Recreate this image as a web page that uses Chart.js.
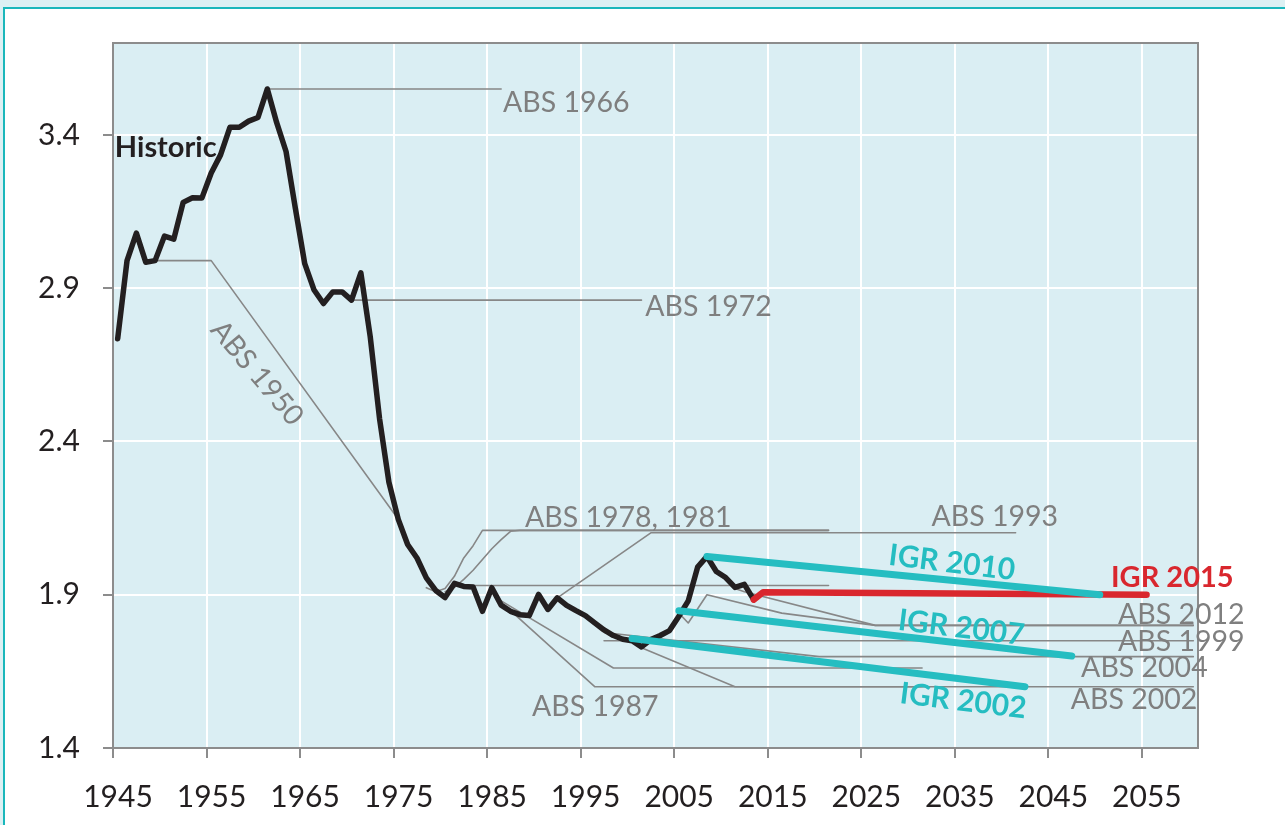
<!DOCTYPE html>
<html><head><meta charset="utf-8">
<script src="https://cdn.jsdelivr.net/npm/chart.js@4.4.1/dist/chart.umd.min.js"></script>
<style>
html,body{margin:0;padding:0;background:#dcf0f3;width:1285px;height:825px;overflow:hidden;}
#frame{position:absolute;left:3px;top:7px;width:1400px;height:900px;background:#fff;border-top:2px solid #1ab7bb;border-left:2px solid #1ab7bb;}
#wrap{position:absolute;left:0;top:0;width:1285px;height:825px;}
</style></head><body>
<div id="frame"></div>
<div id="wrap"><canvas id="c" width="1285" height="825"></canvas></div>
<script>
// ---- data ----
const xTickYears = [1945,1955,1965,1975,1985,1995,2005,2015,2025,2035,2045,2055];
const yTickValues = [1.4,1.9,2.4,2.9,3.4];

const histYears = [1945,1946,1947,1948,1949,1950,1951,1952,1953,1954,1955,1956,1957,1958,1959,1960,1961,1962,1963,1964,1965,1966,1967,1968,1969,1970,1971,1972,1973,1974,1975,1976,1977,1978,1979,1980,1981,1982,1983,1984,1985,1986,1987,1988,1989,1990,1991,1992,1993,1994,1995,1996,1997,1998,1999,2000,2001,2002,2003,2004,2005,2006,2007,2008,2009,2010,2011,2012,2013];
const histTFR = [2.735,2.99,3.08,2.985,2.99,3.07,3.06,3.18,3.195,3.194,3.276,3.335,3.425,3.425,3.445,3.457,3.55,3.44,3.346,3.16,2.98,2.894,2.85,2.888,2.888,2.861,2.95,2.742,2.474,2.267,2.146,2.064,2.02,1.955,1.914,1.891,1.937,1.927,1.925,1.846,1.923,1.866,1.846,1.835,1.832,1.901,1.852,1.89,1.865,1.848,1.832,1.808,1.785,1.767,1.755,1.75,1.73,1.754,1.767,1.783,1.83,1.88,1.99,2.025,1.976,1.956,1.924,1.934,1.884];

const igr2002Years = [2000,2042]; const igr2002Vals = [1.757,1.60];
const igr2007Years = [2005,2047]; const igr2007Vals = [1.848,1.70];
const igr2010Years = [2008,2050]; const igr2010Vals = [2.025,1.90];
const igr2015Years = [2013,2014,2055]; const igr2015Vals = [1.884,1.908,1.90];

const abs1950Years = [1949,1955,1975]; const abs1950Vals = [2.99,2.99,2.146];
const abs1966Years = [1961,1986]; const abs1966Vals = [3.55,3.55];
const abs1972Years = [1970,2001]; const abs1972Vals = [2.861,2.861];
const abs1978Years = [1978,1979,1980,1981,1982,1983,1984,2021]; const abs1978Vals = [1.923,1.91,1.92,1.96,2.02,2.06,2.11,2.11];
const abs1981aYears = [1980,1981,1982,1983,1984,1985,1986,1987,1988,2021]; const abs1981aVals = [1.91,1.924,1.95,1.98,2.015,2.05,2.08,2.107,2.11,2.11];
const abs1981bYears = [1981,2021]; const abs1981bVals = [1.93,1.93];
const abs1987aYears = [1986,1998,2031]; const abs1987aVals = [1.88,1.661,1.661];
const abs1987bYears = [1987,1996,2031]; const abs1987bVals = [1.848,1.60,1.60];
const abs1993Years = [1992,2002,2041]; const abs1993Vals = [1.89,2.102,2.102];
const abs1999Years = [1997,2060]; const abs1999Vals = [1.75,1.75];
const abs2002Years = [2001,2011,2060]; const abs2002Vals = [1.727,1.60,1.60];
const abs2004Years = [1997,2020,2060]; const abs2004Vals = [1.777,1.698,1.698];
const abs2008Years = [2005,2006,2008,2016,2026,2060]; const abs2008Vals = [1.84,1.808,1.90,1.84,1.80,1.80];
const abs2012Years = [2011,2012,2026,2060]; const abs2012Vals = [1.92,1.91,1.80,1.80];

// ---- styling / build ----
const CAT = 0.5; // points sit at the centre of each year category
const pts = (ys, vs) => ys.map((y,i)=>({x:y+CAT, y:vs[i]}));
const TEAL = '#25bdc1', RED = '#d9272e', BLACK = '#231f20', GREY = '#878787', LABELGREY = '#7f7f7f';
const FONT = 'Lato';

function line(data, color, width){
  return {data, borderColor:color, borderWidth:width, pointRadius:0, fill:false, tension:0,
          borderCapStyle:'round', borderJoinStyle:'round'};
}
const datasets = [
  line(pts(igr2010Years, igr2010Vals), TEAL, 7),
  line(pts(igr2007Years, igr2007Vals), TEAL, 7),
  line(pts(igr2002Years, igr2002Vals), TEAL, 7),
  line(pts(igr2015Years, igr2015Vals), RED, 6.5),
  line(pts(histYears, histTFR), BLACK, 5.5),
  line(pts(abs1950Years, abs1950Vals), GREY, 1.6),
  line(pts(abs1966Years, abs1966Vals), GREY, 1.6),
  line(pts(abs1972Years, abs1972Vals), GREY, 1.6),
  line(pts(abs1978Years, abs1978Vals), GREY, 1.6),
  line(pts(abs1981aYears, abs1981aVals), GREY, 1.6),
  line(pts(abs1981bYears, abs1981bVals), GREY, 1.6),
  line(pts(abs1987aYears, abs1987aVals), GREY, 1.6),
  line(pts(abs1987bYears, abs1987bVals), GREY, 1.6),
  line(pts(abs1993Years, abs1993Vals), GREY, 1.6),
  line(pts(abs1999Years, abs1999Vals), GREY, 1.6),
  line(pts(abs2002Years, abs2002Vals), GREY, 1.6),
  line(pts(abs2004Years, abs2004Vals), GREY, 1.6),
  line(pts(abs2008Years, abs2008Vals), GREY, 1.6),
  line(pts(abs2012Years, abs2012Vals), GREY, 1.6),
];

// text labels anchored in data space: [text, year, value, align, color, weight, size, rotationDeg]
const labels = [
  ['Historic', 1945.2, 3.36, 'left', BLACK, 'bold', 29, 0],
  ['ABS 1966', 1986.7, 3.505, 'left', LABELGREY, 'normal', 28.5, 0],
  ['ABS 1972', 2001.9, 2.84, 'left', LABELGREY, 'normal', 28.5, 0],
  ['ABS 1950', 1960.4, 2.623, 'center', LABELGREY, 'normal', 28.5, 50],
  ['ABS 1978, 1981', 1989.05, 2.15, 'left', LABELGREY, 'normal', 28.5, 0],
  ['ABS 1993', 2032.5, 2.154, 'left', LABELGREY, 'normal', 28.5, 0],
  ['ABS 2012', 2052.45, 1.834, 'left', LABELGREY, 'normal', 28.5, 0],
  ['ABS 1999', 2052.45, 1.746, 'left', LABELGREY, 'normal', 28.5, 0],
  ['ABS 2004', 2048.5, 1.661, 'left', LABELGREY, 'normal', 28.5, 0],
  ['ABS 2002', 2047.4, 1.557, 'left', LABELGREY, 'normal', 28.5, 0],
  ['ABS 1987', 1989.8, 1.533, 'left', LABELGREY, 'normal', 28.5, 0],
  ['IGR 2010', 2034.7, 2.004, 'center', TEAL, 'bold', 30, 7],
  ['IGR 2007', 2035.7, 1.792, 'center', TEAL, 'bold', 30, 7],
  ['IGR 2002', 2035.9, 1.553, 'center', TEAL, 'bold', 30, 7],
  ['IGR 2015', 2051.7, 1.955, 'left', RED, 'bold', 29, 0],
];

const bgPlugin = {
  id:'bg',
  beforeDraw(chart){
    const {ctx, chartArea:a} = chart;
    ctx.save(); ctx.fillStyle = '#daeef3';
    ctx.fillRect(a.left, a.top, a.right-a.left, a.bottom-a.top);
    ctx.restore();
  },
  afterDraw(chart){
    const {ctx, chartArea:a} = chart;
    ctx.save(); ctx.strokeStyle = '#8c8c8c'; ctx.lineWidth = 2;
    ctx.beginPath(); ctx.moveTo(a.left, a.top); ctx.lineTo(a.right, a.top); ctx.lineTo(a.right, a.bottom); ctx.stroke();
    ctx.restore();
    const xs = chart.scales.x, ys = chart.scales.y;
    labels.forEach(([t, yr, v, align, col, w, size, rot])=>{
      const px = xs.getPixelForValue(yr), py = ys.getPixelForValue(v);
      ctx.save();
      ctx.translate(px, py); ctx.rotate(rot*Math.PI/180);
      ctx.font = `${w} ${size}px ${FONT}`; ctx.fillStyle = col;
      ctx.textAlign = align; ctx.textBaseline = 'middle';
      ctx.fillText(t, 0, 0);
      ctx.restore();
    });
  }
};

new Chart(document.getElementById('c').getContext('2d'), {
  type:'line',
  data:{datasets},
  options:{
    responsive:false, animation:false, devicePixelRatio:1,
    layout:{padding:{left:0, top:43, right:87, bottom:0}},
    plugins:{legend:{display:false}, tooltip:{enabled:false}},
    scales:{
      x:{type:'linear', min:1945, max:2061,
         afterBuildTicks:s=>{ s.ticks = xTickYears.map(v=>({value:v})); },
         afterFit:s=>{ s.height = 77; },
         grid:{color:'#ffffff', lineWidth:2, tickLength:10, tickColor:'#8c8c8c', tickWidth:2},
         border:{color:'#8c8c8c', width:2},
         ticks:{font:{family:FONT, size:30}, color:BLACK, padding:21, labelOffset:5, maxRotation:0, autoSkip:false,
                callback:v=>String(v)}},
      y:{type:'linear', min:1.4, max:3.7,
         afterBuildTicks:s=>{ s.ticks = yTickValues.map(v=>({value:v})); },
         afterFit:s=>{ s.width = 113; },
         grid:{color:'#ffffff', lineWidth:2, tickLength:10, tickColor:'#8c8c8c', tickWidth:2},
         border:{color:'#8c8c8c', width:2},
         ticks:{font:{family:FONT, size:30}, color:BLACK, padding:23, callback:v=>Number(v).toFixed(1)}}
    }
  },
  plugins:[bgPlugin]
});
</script>
</body></html>
